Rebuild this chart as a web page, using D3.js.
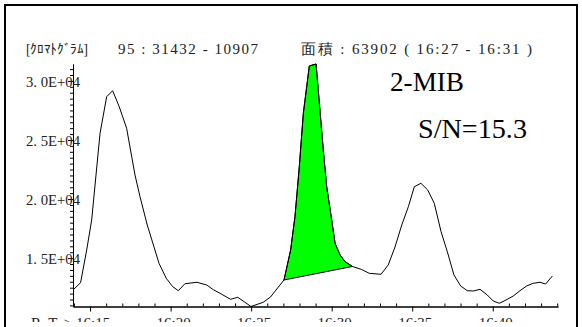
<!DOCTYPE html>
<html>
<head>
<meta charset="utf-8">
<script src="https://cdn.jsdelivr.net/npm/d3@7"></script>
<style>
  body { margin: 0; background: #fff; }
  svg text { font-family: "Times New Roman", Tinos, "Liberation Serif", "DejaVu Serif", "Noto Serif", serif; }
</style>
</head>
<body>
<div id="chart"></div>
<script>
// Chromatogram data (minutes after 16:00, intensity)
var times = [13.94, 14.41, 14.79, 15.10, 15.35, 15.62, 16.03, 16.40, 16.81, 17.27,
  17.79, 18.10, 18.55, 19.28, 19.73, 20.13, 20.48, 20.89, 21.64, 22.24,
  22.65, 23.07, 23.72, 24.17, 24.99, 25.75, 26.20, 27.04, 27.45, 27.72,
  27.99, 28.24, 28.61, 29.03, 29.48, 29.69, 30.00, 30.21, 30.52, 30.83,
  31.29, 31.86, 32.33, 33.06, 33.51, 33.93, 34.35, 34.76, 35.13, 35.54,
  35.96, 36.37, 36.79, 37.18, 37.59, 38.01, 38.42, 38.79, 39.21, 39.66,
  40.03, 40.41, 40.82, 41.27, 41.69, 42.10, 42.51, 42.93, 43.28, 43.70];
var intensity = [12304, 12921, 15689, 18228, 21783, 25567, 28664, 29172, 27818, 25990,
  22037, 20200, 17805, 14563, 13294, 12583, 12244, 12837, 12955, 12727,
  12329, 12024, 11516, 11686, 10907, 11262, 11711, 13150, 15689, 18508,
  22740, 27260, 31263, 31432, 24153, 21047, 18228, 16256, 15266, 14699,
  14293, 14039, 13717, 13632, 14420, 15943, 17805, 19354, 21047, 21335,
  20768, 19642, 17238, 15545, 13573, 12642, 12244, 12219, 12363, 11880,
  11373, 11178, 11457, 11796, 12244, 12642, 12871, 12955, 12811, 13489];

// integrated peak (16:27 - 16:31)
var peakStart = 27.04;
var peakEnd = 31.29;

var yMajor = [15000, 20000, 25000, 30000];
var yLabels = ["1. 5E+04", "2. 0E+04", "2. 5E+04", "3. 0E+04"];
var xMajor = [15, 20, 25, 30, 35, 40];
var xLabels = ["16:15", "16:20", "16:25", "16:30", "16:35", "16:40"];

var svgWidth = 582;
var svgHeight = 327;

var svg = d3.select("#chart")
  .append("svg")
  .attr("width", svgWidth)
  .attr("height", svgHeight);

// frame
svg.append("path")
  .attr("d", "M5,330 L5,5 L577,5 L577,330")
  .attr("fill", "none")
  .attr("stroke", "#000")
  .attr("stroke-width", 2);

var x = d3.scaleLinear().domain([13.94, 44.05]).range([73, 558]);
var y = d3.scaleLinear().domain([10907, 31432]).range([306.5, 64]);

var data = times.map(function(t, i) { return { t: t, v: intensity[i] }; });

// axes: minor + major ticks
var yMinor = d3.range(11000, 31500, 500).filter(function(v) { return v % 5000 != 0; });
svg.append("g")
  .attr("transform", "translate(73,0)")
  .call(d3.axisLeft(y).tickValues(yMinor).tickSize(3).tickSizeOuter(0).tickFormat(""));
svg.append("g")
  .attr("transform", "translate(73,0)")
  .call(d3.axisLeft(y).tickValues(yMajor).tickSize(5).tickSizeOuter(0).tickFormat(""));

var xMinor = d3.range(14, 45, 1).filter(function(v) { return v % 5 != 0; });
svg.append("g")
  .attr("transform", "translate(0,306.5)")
  .call(d3.axisBottom(x).tickValues(xMinor).tickSize(-3).tickSizeOuter(0).tickFormat(""));
svg.append("g")
  .attr("transform", "translate(0,306.5)")
  .call(d3.axisBottom(x).tickValues(xMajor).tickSize(5).tickSizeOuter(0).tickFormat(""));

svg.selectAll(".domain, .tick line").attr("stroke", "#000");

// y labels
svg.selectAll(".ylab")
  .data(yMajor)
  .enter()
  .append("text")
  .attr("class", "ylab")
  .attr("x", 26)
  .attr("y", function(d) { return y(d) + 6; })
  .attr("font-size", "15px")
  .attr("fill", "#222")
  .attr("textLength", 54)
  .attr("lengthAdjust", "spacingAndGlyphs")
  .text(function(d, i) { return yLabels[i]; });

// x labels (the bottom edge of the window cuts them)
svg.append("clipPath").attr("id", "cut")
  .append("rect").attr("x", 0).attr("y", 0).attr("width", svgWidth).attr("height", 322);
var xl = svg.append("g").attr("clip-path", "url(#cut)");
xl.selectAll("text")
  .data(xMajor)
  .enter()
  .append("text")
  .attr("x", function(d) { return x(d) + 3; })
  .attr("y", 328)
  .attr("text-anchor", "middle")
  .attr("font-size", "15px")
  .attr("fill", "#222")
  .text(function(d, i) { return xLabels[i]; });
xl.append("text")
  .attr("x", 31)
  .attr("y", 328)
  .attr("font-size", "15px")
  .attr("fill", "#222")
  .text("R. T. >");

// green peak area
var peak = data.filter(function(d) { return d.t >= peakStart && d.t <= peakEnd; });
svg.append("path")
  .datum(peak)
  .attr("d", function(d) {
    return d3.line().x(function(p) { return x(p.t); }).y(function(p) { return y(p.v); })(d) + "Z";
  })
  .attr("fill", "#00ff00")
  .attr("stroke", "#000")
  .attr("stroke-width", 1);

// chromatogram line
svg.append("path")
  .datum(data)
  .attr("d", d3.line().x(function(d) { return x(d.t); }).y(function(d) { return y(d.v); }))
  .attr("fill", "none")
  .attr("stroke", "#000")
  .attr("stroke-width", 1);

// header
svg.append("text")
  .attr("x", 26).attr("y", 54)
  .attr("font-size", "14px")
  .attr("fill", "#222")
  .attr("textLength", 62)
  .attr("lengthAdjust", "spacingAndGlyphs")
  .text("[ｸﾛﾏﾄｸﾞﾗﾑ]");
svg.append("text")
  .attr("x", 118).attr("y", 54)
  .attr("font-size", "15px")
  .attr("fill", "#222")
  .attr("textLength", 140)
  .attr("lengthAdjust", "spacing")
  .text("95 : 31432 - 10907");
svg.append("text")
  .attr("x", 301).attr("y", 54)
  .attr("font-size", "15px")
  .attr("fill", "#222")
  .attr("textLength", 231)
  .attr("lengthAdjust", "spacing")
  .text("面積 : 63902 ( 16:27 - 16:31 )");

svg.append("text")
  .attr("x", 390).attr("y", 91)
  .attr("font-size", "27px")
  .attr("fill", "#000")
  .attr("textLength", 74)
  .attr("lengthAdjust", "spacingAndGlyphs")
  .text("2-MIB");
svg.append("text")
  .attr("x", 418).attr("y", 138)
  .attr("font-size", "27px")
  .attr("fill", "#000")
  .attr("textLength", 109)
  .attr("lengthAdjust", "spacingAndGlyphs")
  .text("S/N=15.3");
</script>
</body>
</html>
